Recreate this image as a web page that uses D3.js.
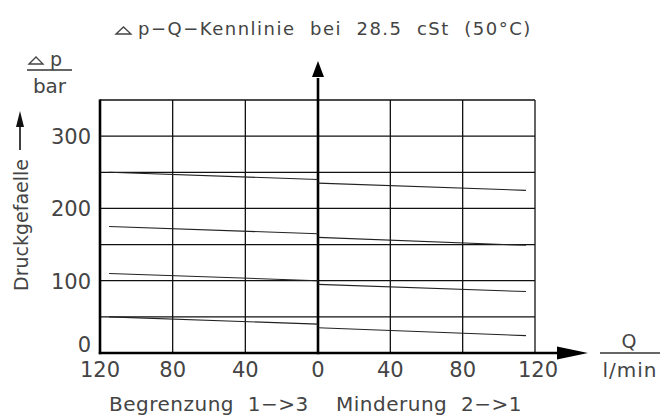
<!DOCTYPE html>
<html>
<head>
<meta charset="utf-8">
<script src="https://cdn.jsdelivr.net/npm/d3@7"></script>
<style>
  body { margin: 0; background: #fff; }
  text { font-family: "DejaVu Sans", sans-serif; fill: #444; white-space: pre; }
</style>
</head>
<body>
<div id="chart"></div>
<script>
// flow Q (l/min) at the ends of each line
const qLeft = [115, 0];   // Begrenzung 1->3
const qRight = [0, 115];  // Minderung 2->1

// pressure drop (bar) for each setting
const begrenzung = [[250, 240], [175, 165], [110, 100], [50, 40]];
const minderung = [[235, 225], [160, 149], [95, 85], [35, 24]];

const qTicks = [120, 80, 40, 0];
const pTicks = [0, 50, 100, 150, 200, 250, 300, 350];
const pLabels = [0, 100, 200, 300];

const svg = d3.select("#chart")
  .append("svg")
  .attr("width", 660)
  .attr("height", 418);

// two half-scales meeting at Q=0
const xL = d3.scaleLinear().domain([120, 0]).range([100, 318]);
const xR = d3.scaleLinear().domain([0, 120]).range([318, 535]);
const y = d3.scaleLinear().domain([0, 350]).range([353, 100]);

// grid
svg.append("g").selectAll("line")
  .data(pTicks)
  .enter().append("line")
  .attr("x1", xL(120)).attr("x2", xR(120))
  .attr("y1", d => y(d)).attr("y2", d => y(d))
  .attr("stroke", "#111").attr("stroke-width", 1.3);

svg.append("g").selectAll("line")
  .data(qTicks.map(xL).concat(qTicks.map(xR)))
  .enter().append("line")
  .attr("x1", d => d).attr("x2", d => d)
  .attr("y1", y(0)).attr("y2", y(350))
  .attr("stroke", "#111").attr("stroke-width", 1.3);

// thick axes: left border, bottom with arrow, centre with arrow
svg.append("line")
  .attr("x1", xL(120)).attr("x2", xL(120))
  .attr("y1", y(350) - 0.6).attr("y2", y(0) + 1.2)
  .attr("stroke", "#000").attr("stroke-width", 2.6);
svg.append("line")
  .attr("x1", xL(120) - 1.2).attr("x2", 560)
  .attr("y1", y(0)).attr("y2", y(0))
  .attr("stroke", "#000").attr("stroke-width", 2.6);
svg.append("path")
  .attr("d", `M557,${y(0) - 6.5} L588,${y(0)} L557,${y(0) + 6.5} Z`)
  .attr("fill", "#000");
svg.append("line")
  .attr("x1", xL(0)).attr("x2", xL(0))
  .attr("y1", y(0) + 1.2).attr("y2", 78)
  .attr("stroke", "#000").attr("stroke-width", 2.6);
svg.append("path")
  .attr("d", `M${xL(0) - 6},77 L${xL(0)},61 L${xL(0) + 6},77 Z`)
  .attr("fill", "#000");

// characteristic lines
const lineL = d3.line().x((d, i) => xL(qLeft[i])).y(d => y(d));
const lineR = d3.line().x((d, i) => xR(qRight[i])).y(d => y(d));

svg.append("g").selectAll("path")
  .data(begrenzung)
  .enter().append("path")
  .attr("d", lineL)
  .attr("fill", "none").attr("stroke", "#222").attr("stroke-width", 1.1);
svg.append("g").selectAll("path")
  .data(minderung)
  .enter().append("path")
  .attr("d", lineR)
  .attr("fill", "none").attr("stroke", "#222").attr("stroke-width", 1.1);

// tick labels (the 0 sits on top of the axis line)
svg.append("g").selectAll("text")
  .data(pLabels)
  .enter().append("text")
  .attr("x", 91).attr("y", d => d === 0 ? y(d) - 1 : y(d) + 8)
  .attr("text-anchor", "end")
  .attr("font-size", 21)
  .text(d => d);

svg.append("g").selectAll("text")
  .data(qTicks)
  .enter().append("text")
  .attr("x", d => xL(d)).attr("y", 377)
  .attr("text-anchor", "middle")
  .attr("font-size", 21)
  .text(d => d);
svg.append("g").selectAll("text")
  .data(qTicks.filter(d => d > 0))
  .enter().append("text")
  .attr("x", d => xR(d) + (d === 120 ? 3 : 0)).attr("y", 377)
  .attr("text-anchor", "middle")
  .attr("font-size", 21)
  .text(d => d);

// title
svg.append("path")
  .attr("d", "M116,34 L123.5,27 L131,34 Z")
  .attr("fill", "none").attr("stroke", "#444").attr("stroke-width", 1.3);
svg.append("text")
  .attr("x", 138).attr("y", 35)
  .attr("font-size", 18)
  .attr("letter-spacing", 1.5)
  .text("p\u2212Q\u2212Kennlinie  bei  28.5  cSt  (50°C)");

// y unit: Δp over bar
svg.append("path")
  .attr("d", "M29,64 L36,57 L43,64 Z")
  .attr("fill", "none").attr("stroke", "#444").attr("stroke-width", 1.3);
svg.append("text").attr("x", 50).attr("y", 66).attr("font-size", 19).text("p");
svg.append("line")
  .attr("x1", 27).attr("x2", 72).attr("y1", 70).attr("y2", 70)
  .attr("stroke", "#333").attr("stroke-width", 1.3);
svg.append("text").attr("x", 49.5).attr("y", 93)
  .attr("text-anchor", "middle").attr("font-size", 20).text("bar");

// y title with arrow
svg.append("line")
  .attr("x1", 20).attr("x2", 20).attr("y1", 150).attr("y2", 122)
  .attr("stroke", "#111").attr("stroke-width", 1.6);
svg.append("path")
  .attr("d", "M16,127 L20,111 L24,127 Z")
  .attr("fill", "#111");
svg.append("text")
  .attr("transform", "translate(28,225) rotate(-90)")
  .attr("text-anchor", "middle")
  .attr("font-size", 19)
  .text("Druckgefaelle");

// x unit: Q over l/min
svg.append("text").attr("x", 629).attr("y", 348)
  .attr("text-anchor", "middle").attr("font-size", 19).text("Q");
svg.append("line")
  .attr("x1", 600).attr("x2", 660).attr("y1", 353).attr("y2", 353)
  .attr("stroke", "#333").attr("stroke-width", 1.3);
svg.append("text").attr("x", 630).attr("y", 377)
  .attr("text-anchor", "middle").attr("font-size", 20)
  .attr("letter-spacing", 1).text("l/min");

// bottom captions
svg.append("text").attr("x", 109).attr("y", 411)
  .attr("font-size", 20).attr("letter-spacing", 0.5)
  .text("Begrenzung  1\u2212>3");
svg.append("text").attr("x", 336).attr("y", 411)
  .attr("font-size", 20).attr("letter-spacing", 0.5)
  .text("Minderung  2\u2212>1");
</script>
</body>
</html>
